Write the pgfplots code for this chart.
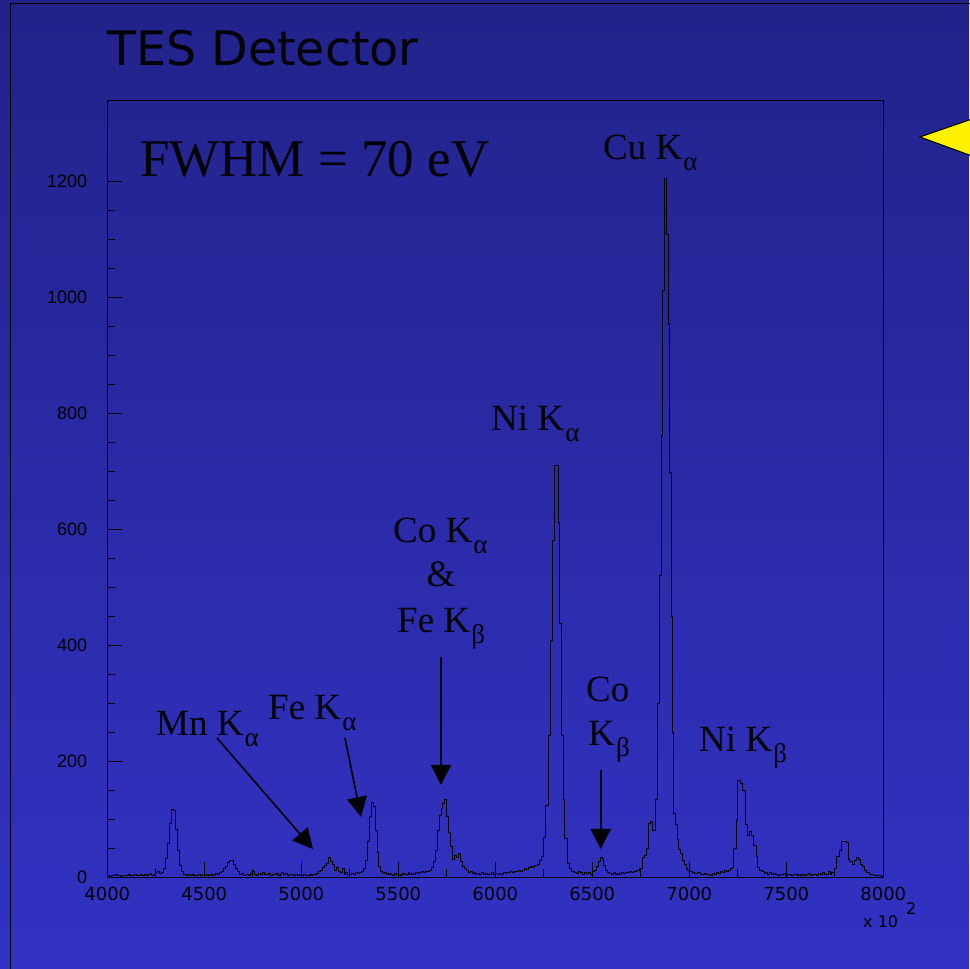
\documentclass[border=0pt]{standalone}
\usepackage{fontspec}
\setmainfont{Liberation Serif}
\newfontfamily\dv{DejaVu Sans}
\newfontfamily\ls{Liberation Sans}
\usepackage{pgfplots}
\usepackage{pgfplotstable}
\pgfplotsset{compat=1.18}
\usetikzlibrary{arrows.meta}
\definecolor{bgtop}{RGB}{34,34,138}
\definecolor{bgbot}{RGB}{50,50,196}
\newcommand{\lab}[2]{#1\kern0.03em\raisebox{-11pt}{\fontsize{27}{27}\selectfont #2}}
\pgfplotstableread{
x y
4000 2
4010 1
4020 3
4030 2
4040 4
4050 2
4060 3
4070 1
4080 2
4090 3
4100 2
4110 4
4120 2
4130 3
4140 5
4150 2
4160 3
4170 4
4180 2
4190 5
4200 3
4210 4
4220 6
4230 3
4240 5
4250 8
4260 10
4270 6
4280 8
4290 14
4300 32
4310 58
4320 92
4330 117
4340 114
4350 82
4360 45
4370 20
4380 9
4390 5
4400 4
4410 3
4420 5
4430 2
4440 4
4450 3
4460 2
4470 4
4480 3
4490 5
4500 3
4510 4
4520 2
4530 5
4540 3
4550 4
4560 6
4570 5
4580 8
4590 10
4600 14
4610 19
4620 25
4630 29
4640 29
4650 22
4660 14
4670 9
4680 5
4690 6
4700 3
4710 5
4720 4
4730 3
4740 6
4750 9
4760 5
4770 3
4780 6
4790 4
4800 7
4810 5
4820 4
4830 6
4840 3
4850 5
4860 4
4870 6
4880 3
4890 5
4900 7
4910 4
4920 6
4930 3
4940 5
4950 4
4960 3
4970 5
4980 2
4990 4
5000 3
5010 4
5020 2
5030 3
5040 4
5050 3
5060 5
5070 4
5080 6
5090 9
5100 12
5110 16
5120 20
5130 24
5140 33
5150 27
5160 22
5170 12
5180 17
5190 9
5200 7
5210 14
5220 5
5230 7
5240 5
5250 4
5260 6
5270 5
5280 7
5290 6
5300 8
5310 10
5320 14
5330 28
5340 62
5350 104
5360 128
5370 121
5380 80
5390 42
5400 18
5410 9
5420 6
5430 7
5440 4
5450 6
5460 5
5470 3
5480 6
5490 4
5500 5
5510 3
5520 6
5530 4
5540 5
5550 7
5560 4
5570 6
5580 5
5590 8
5600 6
5610 7
5620 9
5630 8
5640 10
5650 9
5660 12
5670 16
5680 26
5690 46
5700 80
5710 106
5720 119
5730 127
5740 133
5750 104
5760 77
5770 52
5780 31
5790 38
5800 33
5810 40
5820 27
5830 19
5840 14
5850 11
5860 8
5870 9
5880 6
5890 7
5900 5
5910 6
5920 4
5930 7
5940 5
5950 6
5960 4
5970 5
5980 7
5990 5
6000 6
6010 4
6020 6
6030 5
6040 7
6050 6
6060 8
6070 7
6080 9
6090 8
6100 10
6110 9
6120 11
6130 10
6140 12
6150 14
6160 13
6170 16
6180 18
6190 17
6200 20
6215 22
6230 28
6238 36
6250 69
6260 124
6275 245
6286 409
6296 581
6306 710
6323 612
6332 438
6341 245
6349 133
6358 67
6370 24
6384 14
6395 10
6410 8
6420 6
6430 9
6440 7
6450 5
6460 8
6470 6
6480 7
6490 5
6500 9
6510 12
6520 18
6530 26
6540 33
6550 30
6560 20
6570 12
6580 8
6590 6
6600 5
6610 7
6620 4
6630 6
6640 5
6650 7
6660 6
6670 8
6680 7
6690 9
6700 8
6710 10
6720 9
6730 12
6744 15
6759 33
6770 38
6778 50
6787 92
6798 95
6811 81
6826 133
6838 300
6847 520
6855 762
6864 1012
6872 1205
6881 1109
6890 955
6898 698
6907 450
6914 250
6920 110
6929 90
6937 64
6944 48
6954 40
6963 28
6974 22
6984 15
6993 12
7001 10
7015 8
7027 6
7040 7
7055 5
7068 4
7080 6
7090 4
7100 5
7110 3
7120 6
7130 5
7140 8
7150 6
7160 9
7170 8
7180 11
7190 10
7200 12
7210 15
7222 17
7229 50
7241 98
7250 167
7264 162
7276 150
7288 90
7298 72
7310 78
7322 72
7332 55
7345 35
7353 16
7362 12
7375 9
7385 6
7395 8
7405 5
7415 7
7425 4
7435 6
7445 5
7455 3
7465 5
7475 4
7485 6
7495 3
7505 5
7515 4
7525 3
7535 5
7545 4
7555 2
7565 4
7575 3
7585 5
7595 3
7605 4
7615 6
7625 3
7635 5
7645 4
7655 3
7665 6
7675 4
7685 8
7695 5
7705 4
7715 9
7725 5
7735 7
7748 14
7760 35
7774 45
7785 61
7795 62
7808 60
7820 30
7828 26
7840 22
7852 28
7862 33
7872 30
7882 22
7895 18
7905 12
7915 8
7930 5
7950 3
7970 2
7990 1
8000 1
}\spectrum
\begin{document}
\begin{tikzpicture}[x=1pt,y=1pt]
\useasboundingbox (0,0) rectangle (969,969);
\shade[top color=bgtop,bottom color=bgbot] (0,0) rectangle (969,969);
\draw[black,line width=0.8pt] (10.7,-1) -- (10.7,965.7) -- (970,965.7);
\fill[yellow,draw=black,line width=1pt] (920,832) -- (972,850) -- (972,813) -- cycle;
\node[anchor=base west,font=\dv\fontsize{47.5}{50}\selectfont,inner sep=0pt] at (107,903.3) {TES Detector};
\begin{axis}[
  at={(107.3pt,92pt)}, anchor=south west,
  width=776pt, height=776.5pt, scale only axis,
  xmin=4000, xmax=8000, ymin=0, ymax=1340,
  axis line style={black,line width=0.8pt},
  tick style={black,line width=0.8pt},
  xtick={4000,4500,...,8000},
  ytick={0,200,...,1200},
  minor x tick num=1, minor y tick num=3,
  major tick length=15pt, minor tick length=7.5pt,
  tick align=inside, tick pos=left,
  scaled x ticks=false, scaled y ticks=false,
  /pgf/number format/1000 sep={},
  /pgf/number format/assume math mode=true,
  xticklabel style={font=\dv\fontsize{18}{18}\selectfont, inner sep=0pt, anchor=north, yshift=-9.7pt},
  yticklabel style={font=\ls\fontsize{18}{18}\selectfont, inner sep=0pt, anchor=east, xshift=-20pt},
  clip=false,
]
\addplot[const plot mark left, black, line width=0.9pt, mark=none] table[x=x,y=y] {\spectrum};
\end{axis}
\node[anchor=base west,font=\fontsize{53}{53}\selectfont,inner sep=0pt] at (140,792) {FWHM = 70 eV};
\begin{scope}[font=\fontsize{37}{37}\selectfont]
\node[anchor=base west,inner sep=0pt] at (603,809) {\lab{Cu K}{α}};
\node[anchor=base west,inner sep=0pt] at (491,538) {\lab{Ni K}{α}};
\node[anchor=base west,inner sep=0pt] at (393,426) {\lab{Co K}{α}};
\node[anchor=base,inner sep=0pt] at (441,382) {\&};
\node[anchor=base west,inner sep=0pt] at (397,336) {\lab{Fe K}{β}};
\node[anchor=base west,inner sep=0pt] at (586,267) {Co};
\node[anchor=base west,inner sep=0pt] at (588,223) {\lab{K}{β}};
\node[anchor=base west,inner sep=0pt] at (156,233) {\lab{Mn K}{α}};
\node[anchor=base west,inner sep=0pt] at (268,249) {\lab{Fe K}{α}};
\node[anchor=base west,inner sep=0pt] at (699,217) {\lab{Ni K}{β}};
\end{scope}
\begin{scope}[line width=1.6pt, -{Triangle[length=20pt,width=20pt]}]
\draw (217,231) -- (313,120);
\draw (345,231) -- (361,152);
\draw (441,312) -- (441,184);
\draw (600.7,199) -- (600.7,120);
\end{scope}
\node[anchor=base west,font=\dv\fontsize{16}{16}\selectfont,inner sep=0pt] at (863,41) {x 10};
\node[anchor=base west,font=\dv\fontsize{16}{16}\selectfont,inner sep=0pt] at (906,54) {2};
\end{tikzpicture}
\end{document}
